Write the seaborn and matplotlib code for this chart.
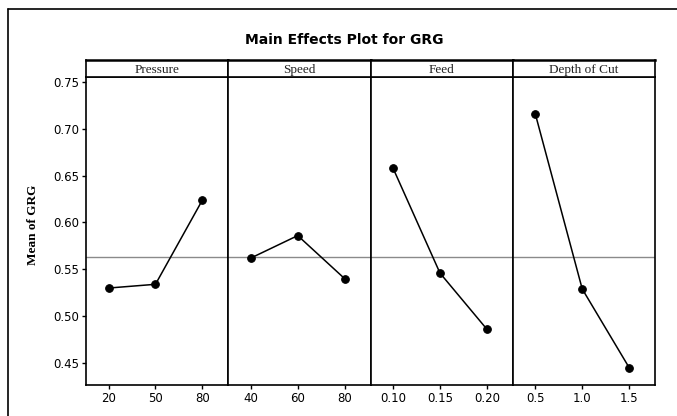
import numpy as np
import pandas as pd
import seaborn as sns
import matplotlib.pyplot as plt
from matplotlib.lines import Line2D

sns.set_theme(style="white")
plt.rcParams['font.family'] = ['DejaVu Sans']
plt.rcParams['text.color'] = 'black'
plt.rcParams['xtick.color'] = 'black'
plt.rcParams['ytick.color'] = 'black'
plt.rcParams['axes.labelcolor'] = 'black'

# factors and their levels
factors = ['Pressure', 'Speed', 'Feed', 'Depth of Cut']
levels = [['20', '50', '80'],
          ['40', '60', '80'],
          ['0.10', '0.15', '0.20'],
          ['0.5', '1.0', '1.5']]

# mean GRG per level
pressure = [0.530, 0.534, 0.624]
speed = [0.562, 0.586, 0.540]
feed = [0.658, 0.546, 0.486]
depth = [0.716, 0.529, 0.445]
means = [pressure, speed, feed, depth]

grand_mean = np.mean(pressure)

rows = []
for f, lv, m in zip(factors, levels, means):
    for i, (l, v) in enumerate(zip(lv, m)):
        rows.append({'factor': f, 'level': l, 'pos': i, 'GRG': v})
df = pd.DataFrame(rows)

fig = plt.figure(figsize=(6.77, 4.16), dpi=100)

left, right = 86 / 677, 655 / 677
bottom, top = 1 - 385 / 416, 1 - 77 / 416
strip_h = 17 / 416
w = (right - left) / 4

for k, f in enumerate(factors):
    ax = fig.add_axes([left + k * w, bottom, w, top - bottom])
    sub = df[df['factor'] == f]
    ax.axhline(grand_mean, color='#8a8a8a', lw=1, zorder=1)
    sns.lineplot(data=sub, x='pos', y='GRG', marker='o', color='black',
                 lw=1.1, markersize=5.5, markeredgecolor='black', ax=ax, zorder=3)
    ax.set_xlim(-0.48, 2.55)
    ax.set_ylim(0.4265, 0.7553)
    ax.set_xticks(range(3))
    ax.set_xticklabels(levels[k])
    ax.set_xlabel('')
    ax.set_ylabel('')
    ax.tick_params(axis='x', direction='out', length=3, width=1, labelsize=8.5,
                   bottom=True, pad=2, color='black')
    if k == 0:
        ax.set_yticks([0.45, 0.50, 0.55, 0.60, 0.65, 0.70, 0.75])
        ax.set_yticklabels(['0.45', '0.50', '0.55', '0.60', '0.65', '0.70', '0.75'])
        ax.tick_params(axis='y', direction='out', length=3, width=1, labelsize=8.5,
                       left=True, pad=2, color='black')
        ax.set_ylabel('Mean of GRG', family='Liberation Serif', fontweight='bold',
                      fontsize=9.5)
        ax.yaxis.set_label_coords(-0.33, 0.52)
    else:
        ax.set_yticks([])
    for s in ax.spines.values():
        s.set_color('black')
        s.set_linewidth(1.2)

    # strip header
    sax = fig.add_axes([left + k * w, top, w, strip_h])
    sax.set_xticks([])
    sax.set_yticks([])
    for s in sax.spines.values():
        s.set_color('black')
        s.set_linewidth(1.2)
    sax.spines['top'].set_linewidth(1.8)
    sax.text(0.5, 0.4, f, transform=sax.transAxes, ha='center', va='center',
             family='Liberation Serif', fontsize=9.5, color='#222222')

fig.text(344.5 / 677, 1 - 40 / 416, 'Main Effects Plot for GRG',
         ha='center', va='center', fontsize=10, fontweight='bold')

# outer frame
fig.add_artist(Line2D([8 / 677, 8 / 677], [0, 1 - 9 / 416], color='black', lw=1.2,
                      transform=fig.transFigure))
fig.add_artist(Line2D([8 / 677, 1], [1 - 9 / 416, 1 - 9 / 416], color='black', lw=1.2,
                      transform=fig.transFigure))

fig.savefig('out.png', dpi=100)
